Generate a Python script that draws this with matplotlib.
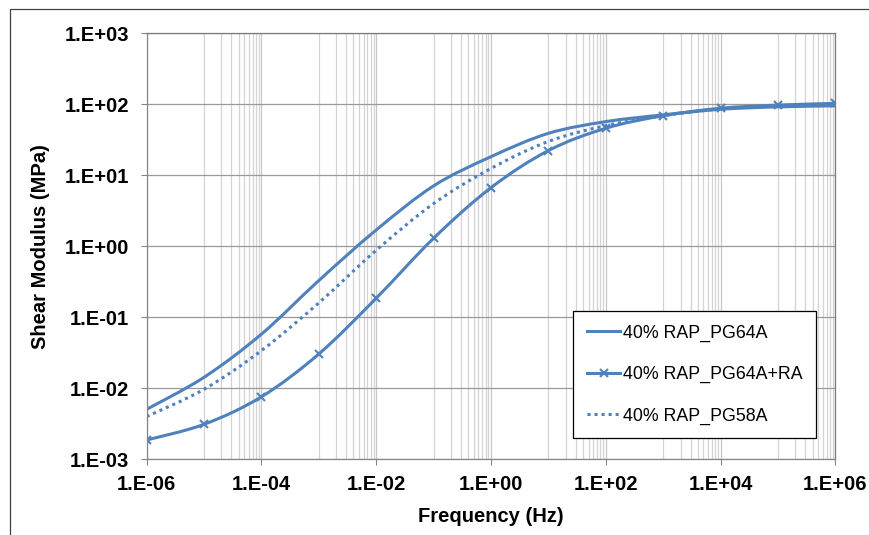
import numpy as np
import matplotlib
matplotlib.use('Agg')
import matplotlib.pyplot as plt
from matplotlib.ticker import FixedLocator, FuncFormatter, NullLocator, NullFormatter
from matplotlib.patches import Rectangle, PathPatch
from matplotlib.path import Path
from matplotlib.lines import Line2D

# shear modulus master curves, read at each decade of frequency
freq = [1e-6, 1e-5, 1e-4, 1e-3, 1e-2, 1e-1, 1e0, 1e1, 1e2, 1e3, 1e4, 1e5, 1e6]
pg64a = [0.00506, 0.0143, 0.058, 0.33, 1.7, 7.1, 18.3, 39, 57, 71, 85, 92, 95]
pg64a_ra = [0.00187, 0.00311, 0.0076, 0.0305, 0.186, 1.30, 6.7, 22.3, 46, 69, 88, 97.5, 103]
pg58a = [0.0040, 0.0097, 0.034, 0.16, 0.88, 4.0, 12.5, 30, 50, 69, 86, 94, 98]
labels = ['40% RAP_PG64A', '40% RAP_PG64A+RA', '40% RAP_PG58A']

plt.rcParams['font.family'] = ['Liberation Sans', 'DejaVu Sans']
blue = '#4f81bd'
lw = 2.2
dots = (0, (1, 1.3))


def smooth_path(x, y):
    # Excel-style "smoothed line": cubic Bezier segments through the points,
    # control points taken in log-log space so the log axes map them straight
    lx, ly = np.log10(x), np.log10(y)
    n = len(lx)
    verts = [(lx[0], ly[0])]
    codes = [Path.MOVETO]
    for i in range(n - 1):
        a, b = max(i - 1, 0), min(i + 2, n - 1)
        c1 = (lx[i] + (lx[i + 1] - lx[a]) / 6, ly[i] + (ly[i + 1] - ly[a]) / 6)
        c2 = (lx[i + 1] - (lx[b] - lx[i]) / 6, ly[i + 1] - (ly[b] - ly[i]) / 6)
        verts += [c1, c2, (lx[i + 1], ly[i + 1])]
        codes += [Path.CURVE4] * 3
    return Path(10.0 ** np.array(verts), codes)


fig = plt.figure(figsize=(8.7, 5.35), dpi=100)
ax = fig.add_axes([0.1686, 0.1415, 0.7917, 0.7963])

ax.set_xscale('log')
ax.set_yscale('log')
ax.set_xlim(1e-6, 1e6)
ax.set_ylim(1e-3, 1e3)

ax.add_patch(PathPatch(smooth_path(freq, pg64a), fill=False, edgecolor=blue, lw=lw))
ax.add_patch(PathPatch(smooth_path(freq, pg64a_ra), fill=False, edgecolor=blue, lw=lw))
ax.add_patch(PathPatch(smooth_path(freq, pg58a), fill=False, edgecolor=blue, lw=lw,
                       linestyle=dots))
ax.plot(freq, pg64a_ra, linestyle='none', marker='x', ms=6, mew=1.5, color=blue)

# Excel-style ticks: labels every two decades on x, every decade on y
ax.xaxis.set_major_locator(FixedLocator([10.0 ** e for e in range(-6, 7, 2)]))
ax.xaxis.set_minor_locator(FixedLocator([m * 10.0 ** e for e in range(-5, 6, 2) for m in range(1, 10)]))
ax.xaxis.set_minor_formatter(NullFormatter())
ax.yaxis.set_major_locator(FixedLocator([10.0 ** e for e in range(-3, 4)]))
ax.yaxis.set_minor_locator(NullLocator())
fmt = FuncFormatter(lambda v, pos: '1.E{:+03d}'.format(int(round(np.log10(v)))))
ax.xaxis.set_major_formatter(fmt)
ax.yaxis.set_major_formatter(fmt)

ax.grid(True, axis='y', which='major', color='#9a9a9a', lw=0.9)
ax.grid(True, axis='x', which='major', color='#c8c8c8', lw=0.9)
ax.grid(True, axis='x', which='minor', color='#d4d4d4', lw=0.9)
ax.set_axisbelow(True)

ax.tick_params(axis='both', which='major', direction='out', length=4.5, width=0.8,
               color='#868686', labelsize=14.5)
ax.tick_params(axis='x', which='minor', length=0)
ax.tick_params(axis='x', pad=7)
ax.tick_params(axis='y', pad=8)
for t in ax.get_xticklabels() + ax.get_yticklabels():
    t.set_fontweight('bold')

for side in ['left', 'bottom']:
    ax.spines[side].set_color('#868686')
    ax.spines[side].set_linewidth(0.9)
for side in ['top', 'right']:
    ax.spines[side].set_color('#7a7a7a')
    ax.spines[side].set_linewidth(0.9)

ax.set_xlabel('Frequency (Hz)', fontsize=14.5, fontweight='bold', labelpad=9.5)
ax.set_ylabel('Shear Modulus (MPa)', fontsize=14.5, fontweight='bold', labelpad=11)

handles = [Line2D([], [], color=blue, lw=lw),
           Line2D([], [], color=blue, lw=lw, marker='x', ms=6, mew=1.5),
           Line2D([], [], color=blue, lw=lw, linestyle=dots)]
leg = ax.legend(handles, labels, loc='upper left',
                bbox_to_anchor=(573 / 870, 1 - 311 / 535),
                bbox_transform=fig.transFigure, borderaxespad=0, fontsize=12.8,
                frameon=True, fancybox=False, edgecolor='black', framealpha=1,
                handlelength=1.9, handletextpad=0.13, labelspacing=1.36,
                borderpad=0.77)
leg.get_frame().set_linewidth(0.9)

# chart area border
fig.add_artist(Rectangle((10 / 870, -0.1), 1.2, 1.1 - 9.3 / 535, transform=fig.transFigure,
                         fill=False, edgecolor='#404040', lw=0.9))

fig.savefig('out.png', dpi=100)
